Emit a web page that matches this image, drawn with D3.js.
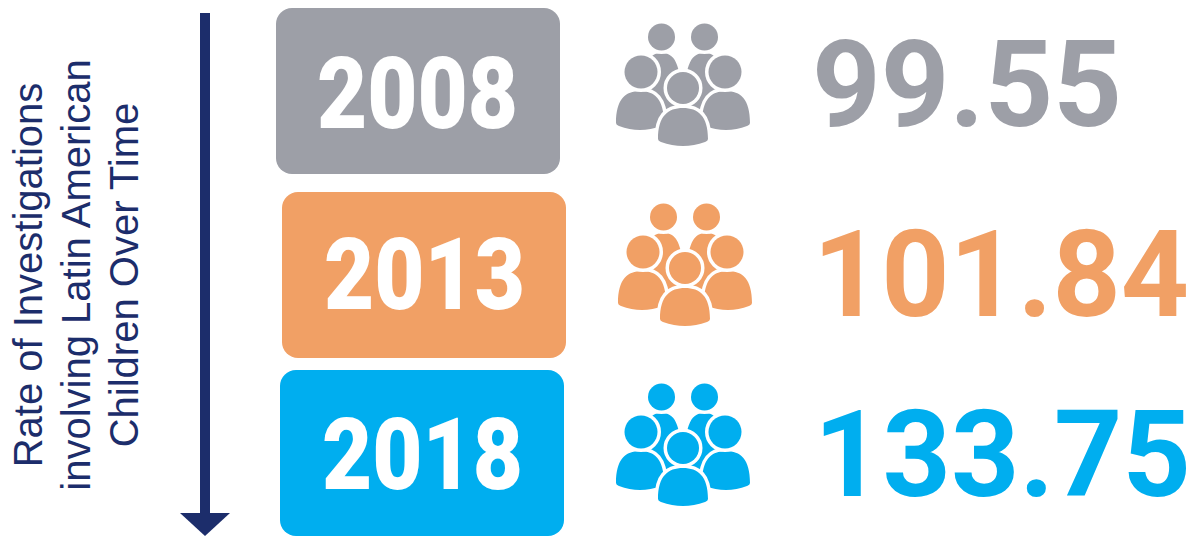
<!DOCTYPE html>
<html>
<head>
<meta charset="utf-8">
<script src="https://cdn.jsdelivr.net/npm/d3@7"></script>
<style>
  html, body { margin: 0; padding: 0; background: #fff; }
  svg { display: block; }
  text { font-family: Roboto, sans-serif; }
</style>
</head>
<body>
<div id="chart"></div>
<script>
var years = ["2008", "2013", "2018"];
var rates = [99.55, 101.84, 133.75];
var colors = ["#9d9fa7", "#f1a065", "#00aeef"];
var axisLines = ["Rate of Investigations", "involving Latin American", "Children Over Time"];

var w = 1200, h = 536;
// each row sits a little off the others in the original
var boxX = [276, 282, 280];
var boxY = [8, 192, 370];
var yearX = [317, 324, 322];
var yearY = [128, 309, 489];
var yearW = [201, 201, 201];
var iconX = [683, 685, 683];
var iconY = [100, 280, 460];
var numX = [812, 813, 814];
var numY = [126, 316, 496];
var numW = [310, 376, 377];

var svg = d3.select("#chart").append("svg")
    .attr("width", w)
    .attr("height", h);

var rows = svg.selectAll("g.row")
    .data(years)
  .enter().append("g")
    .attr("class", "row");

rows.append("rect")
    .attr("x", function(d, i) { return boxX[i]; })
    .attr("y", function(d, i) { return boxY[i]; })
    .attr("width", 284)
    .attr("height", 166)
    .attr("rx", 16)
    .style("fill", function(d, i) { return colors[i]; });

// squeeze a text sideways until it is as wide as the original
function fitWidth(sel, xs, ys, widths) {
  sel.attr("transform", function(d, i) {
    var k = widths[i] / this.getComputedTextLength();
    return "translate(" + xs[i] + "," + ys[i] + ") scale(" + k + ",1)";
  });
}

rows.append("text")
    .style("font-size", "100px")
    .style("font-weight", 900)
    .style("fill", "#fff")
    .text(function(d) { return d; })
    .call(fitWidth, yearX, yearY, yearW);

// people icon: back pair first, then middle pair, then the front one
var people = [
  {hx: -21.5, hy: -63, r: 13.5, bx: -21.5, top: -47, bottom: 12, hw: 20},
  {hx: 21.5, hy: -63, r: 13.5, bx: 21.5, top: -47, bottom: 12, hw: 20},
  {hx: -42, hy: -28, r: 16.5, bx: -43, top: -9, bottom: 31, hw: 24},
  {hx: 42, hy: -28, r: 16.5, bx: 43, top: -9, bottom: 31, hw: 24},
  {hx: 0, hy: -12, r: 16, bx: 0, top: 8, bottom: 47, hw: 25}
];

function bust(p) {
  var l = p.bx - p.hw, r = p.bx + p.hw, side = p.bottom - 6;
  return "M" + l + "," + (side - 2) +
    "C" + l + "," + (p.top + 8) + " " + (p.bx - p.hw * 0.6) + "," + p.top + " " + p.bx + "," + p.top +
    "C" + (p.bx + p.hw * 0.6) + "," + p.top + " " + r + "," + (p.top + 8) + " " + r + "," + (side - 2) +
    "Q" + r + "," + side + " " + (r - 3) + "," + (side + 1) +
    "Q" + p.bx + "," + (p.bottom + 3) + " " + (l + 3) + "," + (side + 1) +
    "Q" + l + "," + side + " " + l + "," + (side - 2) + "Z";
}

rows.each(function(d, i) {
  var g = d3.select(this).append("g")
      .attr("transform", "translate(" + iconX[i] + "," + iconY[i] + ")");
  people.forEach(function(p) {
    g.append("path")
        .attr("d", bust(p))
        .style("fill", colors[i])
        .style("stroke", "#fff")
        .style("stroke-width", 7)
        .style("paint-order", "stroke");
    g.append("circle")
        .attr("cx", p.hx)
        .attr("cy", p.hy)
        .attr("r", p.r)
        .style("fill", colors[i])
        .style("stroke", "#fff")
        .style("stroke-width", 7)
        .style("paint-order", "stroke");
  });
});

rows.append("text")
    .style("font-size", "121px")
    .style("font-weight", 700)
    .style("fill", function(d, i) { return colors[i]; })
    .text(function(d, i) { return rates[i].toFixed(2); })
    .call(fitWidth, numX, numY, numW);

// arrow on the left
svg.append("rect")
    .attr("x", 200)
    .attr("y", 13)
    .attr("width", 10)
    .attr("height", 502)
    .style("fill", "#1c2d6b");
svg.append("path")
    .attr("d", d3.line()([[180, 513], [230, 513], [205, 536]]))
    .style("fill", "#1c2d6b");

svg.append("g")
    .attr("transform", "translate(0,275) rotate(-90)")
  .selectAll("text")
    .data(axisLines)
  .enter().append("text")
    .attr("x", 0)
    .attr("y", function(d, i) { return 42 + i * 48; })
    .attr("text-anchor", "middle")
    .style("font-family", "'Liberation Sans', sans-serif")
    .style("font-size", "40px")
    .style("fill", "#1c2d6b")
    .text(function(d) { return d; });
</script>
</body>
</html>
